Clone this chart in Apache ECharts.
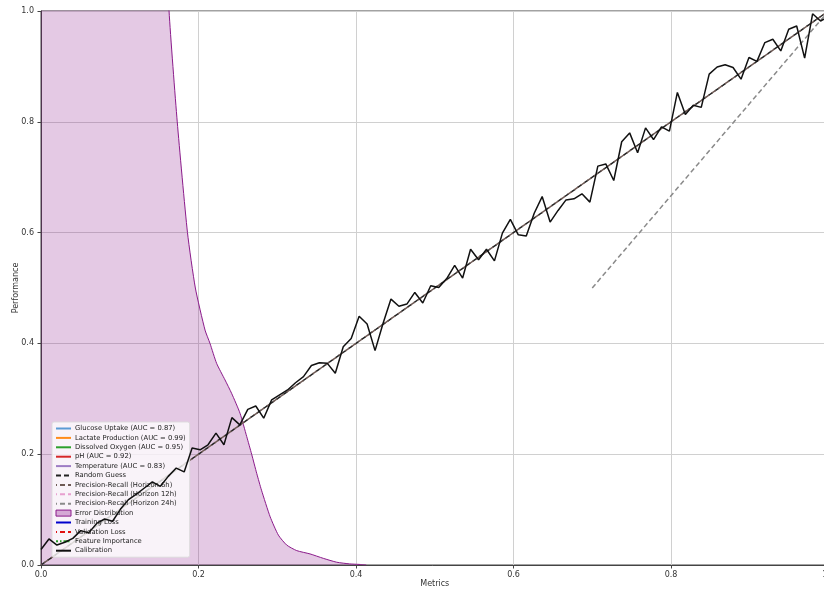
<!DOCTYPE html>
<html>
<head>
<meta charset="utf-8">
<script src="https://cdn.jsdelivr.net/npm/echarts@6/dist/echarts.min.js"></script>
<style>
html,body{margin:0;padding:0;background:#fff;}
#chart{width:824px;height:593px;}
</style>
</head>
<body>
<div id="chart"></div>
<script>
// ---- data ----
const xTicks = [0, 0.2, 0.4, 0.6, 0.8, 1.0];
const yTicks = [0, 0.2, 0.4, 0.6, 0.8, 1.0];

// Error distribution (KDE) — values above 1 are clipped by the axis
const kdeX = [0, 0.03, 0.06, 0.09, 0.12, 0.145, 0.1626, 0.173, 0.186, 0.196, 0.2083, 0.2146, 0.223, 0.2337, 0.242, 0.2527, 0.2612, 0.2675, 0.274, 0.280, 0.291, 0.3014, 0.312, 0.3247, 0.3416, 0.3585, 0.3755, 0.392, 0.405, 0.413];
const kdeY = [3.4, 3.9, 4.1, 3.7, 2.6, 1.5, 1.0, 0.80, 0.60, 0.50, 0.424, 0.400, 0.364, 0.334, 0.310, 0.274, 0.232, 0.200, 0.165, 0.135, 0.087, 0.054, 0.036, 0.026, 0.020, 0.012, 0.005, 0.002, 0.001, 0];

// Calibration curve
const calibX = [0, 0.0101, 0.0202, 0.0303, 0.0404, 0.0505, 0.0606, 0.0707, 0.0808, 0.0909,
  0.1010, 0.1111, 0.1212, 0.1313, 0.1414, 0.1515, 0.1616, 0.1717, 0.1818, 0.1919,
  0.2020, 0.2121, 0.2222, 0.2323, 0.2424, 0.2525, 0.2626, 0.2727, 0.2828, 0.2929,
  0.3030, 0.3131, 0.3232, 0.3333, 0.3434, 0.3535, 0.3636, 0.3737, 0.3838, 0.3939,
  0.4040, 0.4141, 0.4242, 0.4343, 0.4444, 0.4545, 0.4646, 0.4747, 0.4848, 0.4949,
  0.5051, 0.5152, 0.5253, 0.5354, 0.5455, 0.5556, 0.5657, 0.5758, 0.5859, 0.5960,
  0.6061, 0.6162, 0.6263, 0.6364, 0.6465, 0.6566, 0.6667, 0.6768, 0.6869, 0.6970,
  0.7071, 0.7172, 0.7273, 0.7374, 0.7475, 0.7576, 0.7677, 0.7778, 0.7879, 0.7980,
  0.8081, 0.8182, 0.8283, 0.8384, 0.8485, 0.8586, 0.8687, 0.8788, 0.8889, 0.8990,
  0.9091, 0.9192, 0.9293, 0.9394, 0.9495, 0.9596, 0.9697, 0.9798, 0.9899, 1.0];
const calibY = [0.028, 0.047, 0.036, 0.041, 0.048, 0.062, 0.058, 0.075, 0.083, 0.079,
  0.101, 0.118, 0.128, 0.139, 0.150, 0.142, 0.160, 0.175, 0.168, 0.211,
  0.208, 0.217, 0.238, 0.217, 0.266, 0.253, 0.281, 0.287, 0.265, 0.298,
  0.307, 0.316, 0.329, 0.340, 0.360, 0.365, 0.364, 0.346, 0.394, 0.409,
  0.449, 0.435, 0.387, 0.436, 0.480, 0.467, 0.471, 0.492, 0.473, 0.504,
  0.501, 0.517, 0.541, 0.518, 0.570, 0.551, 0.570, 0.549, 0.599, 0.624,
  0.596, 0.594, 0.635, 0.665, 0.619, 0.640, 0.659, 0.661, 0.670, 0.655,
  0.720, 0.724, 0.694, 0.764, 0.780, 0.744, 0.789, 0.768, 0.791, 0.783,
  0.853, 0.813, 0.830, 0.826, 0.886, 0.899, 0.903, 0.898, 0.877, 0.916,
  0.909, 0.943, 0.949, 0.928, 0.967, 0.973, 0.915, 0.995, 0.982, 0.990];

const diagX = [0, 1];
const diagY = [0, 1];
const pr24X = [0.7, 1.0];
const pr24Y = [0.5, 1.0];

const legendNames = [
  'Glucose Uptake (AUC = 0.87)',
  'Lactate Production (AUC = 0.99)',
  'Dissolved Oxygen (AUC = 0.95)',
  'pH (AUC = 0.92)',
  'Temperature (AUC = 0.83)',
  'Random Guess',
  'Precision-Recall (Horizon 6h)',
  'Precision-Recall (Horizon 12h)',
  'Precision-Recall (Horizon 24h)',
  'Error Distribution',
  'Training Loss',
  'Validation Loss',
  'Feature Importance',
  'Calibration'
];

// ---- build ----
const zip = (xs, ys) => xs.map((x, i) => [x, ys[i]]);
const fmt = v => v.toFixed(1);
const chart = echarts.init(document.getElementById('chart'), null, {renderer: 'canvas'});

function lineSeries(name, color, type, data, width, z) {
  return {
    name: name, type: 'line', data: data || [], symbol: 'none', showSymbol: false,
    silent: true, animation: false, z: z || 2,
    lineStyle: {color: color, width: width || 1.5, type: type || 'solid'},
    itemStyle: {color: color}
  };
}

const series = [
  lineSeries(legendNames[0], '#5b9bd5', 'solid'),
  lineSeries(legendNames[1], '#ff8c1a', 'solid'),
  lineSeries(legendNames[2], '#2ca02c', 'solid'),
  lineSeries(legendNames[3], '#d62728', 'solid'),
  lineSeries(legendNames[4], '#9d7cc4', 'solid'),
  {
    name: legendNames[9], type: 'line', data: zip(kdeX, kdeY), symbol: 'none', showSymbol: false,
    silent: true, animation: false, z: 1, clip: true, smooth: 0.2,
    lineStyle: {color: '#8a1a8a', width: 1},
    itemStyle: {color: '#800080'},
    areaStyle: {color: 'rgba(128,0,128,0.3)', origin: 'start'}
  },
  lineSeries(legendNames[5], '#222222', [5, 3], zip(diagX, diagY), 1.5, 3),
  lineSeries(legendNames[6], '#6e5a55', [5, 3], zip(diagX, diagY), 1.5, 3),
  lineSeries(legendNames[7], '#e8a0d0', [5, 3]),
  lineSeries(legendNames[8], '#8a8a8a', [5, 3], zip(pr24X, pr24Y), 1.5, 3),
  lineSeries(legendNames[10], '#0000cc', 'solid'),
  lineSeries(legendNames[11], '#e01010', [5, 3]),
  lineSeries(legendNames[12], '#2ca02c', [6, 2, 1.5, 2]),
  lineSeries(legendNames[13], '#111111', 'solid', zip(calibX, calibY), 1.5, 4)
];
// offset dashes of the second diagonal so the diagonal looks nearly continuous
series[7].lineStyle.dashOffset = 4;

const legendData = legendNames.map(n => {
  if (n === 'Error Distribution') {
    return {name: n, icon: 'rect', itemStyle: {opacity: 1, color: 'rgba(128,0,128,0.3)', borderColor: '#8a1a8a', borderWidth: 1}};
  }
  return {name: n};
});

chart.setOption({
  animation: false,
  backgroundColor: '#ffffff',
  textStyle: {fontFamily: 'DejaVu Sans'},
  grid: {left: 41, top: 11, width: 787.5, height: 554, show: true, borderColor: '#444', borderWidth: 1,
         containLabel: false, outerBoundsMode: 'none'},
  xAxis: {
    type: 'value', min: 0, max: 1, interval: 0.2,
    name: 'Metrics', nameLocation: 'middle', nameGap: 15, nameMoveOverlap: false,
    nameTextStyle: {fontSize: 8, color: '#333', fontFamily: 'DejaVu Sans'},
    axisLine: {show: true, lineStyle: {color: '#444', width: 1}},
    axisTick: {show: true, length: 3.5, lineStyle: {color: '#444'}},
    axisLabel: {fontSize: 8, color: '#333', margin: 6, formatter: fmt, showMaxLabel: true},
    splitLine: {show: true, lineStyle: {color: '#d0d0d0', width: 1}}
  },
  yAxis: {
    type: 'value', min: 0, max: 1, interval: 0.2,
    name: 'Performance', nameLocation: 'middle', nameGap: 21, nameMoveOverlap: false,
    nameTextStyle: {fontSize: 8, color: '#333', fontFamily: 'DejaVu Sans'},
    axisLine: {show: true, lineStyle: {color: '#444', width: 1}},
    axisTick: {show: true, length: 3.5, lineStyle: {color: '#444'}},
    axisLabel: {fontSize: 8, color: '#333', margin: 7, formatter: fmt},
    splitLine: {show: true, lineStyle: {color: '#d0d0d0', width: 1}}
  },
  legend: {
    show: true, orient: 'vertical', left: 52, top: 422,
    data: legendData,
    itemWidth: 15, itemHeight: 6, itemGap: 2.4,
    padding: [3, 4, 3, 3],
    itemStyle: {opacity: 0},
    backgroundColor: 'rgba(255,255,255,0.78)',
    borderColor: 'rgba(220,220,220,0.9)', borderWidth: 1, borderRadius: 2,
    textStyle: {fontSize: 6.8, color: '#222', fontFamily: 'DejaVu Sans', padding: [0, 0, 0, -1]},
    selectedMode: false
  },
  series: series
});
</script>
</body>
</html>
